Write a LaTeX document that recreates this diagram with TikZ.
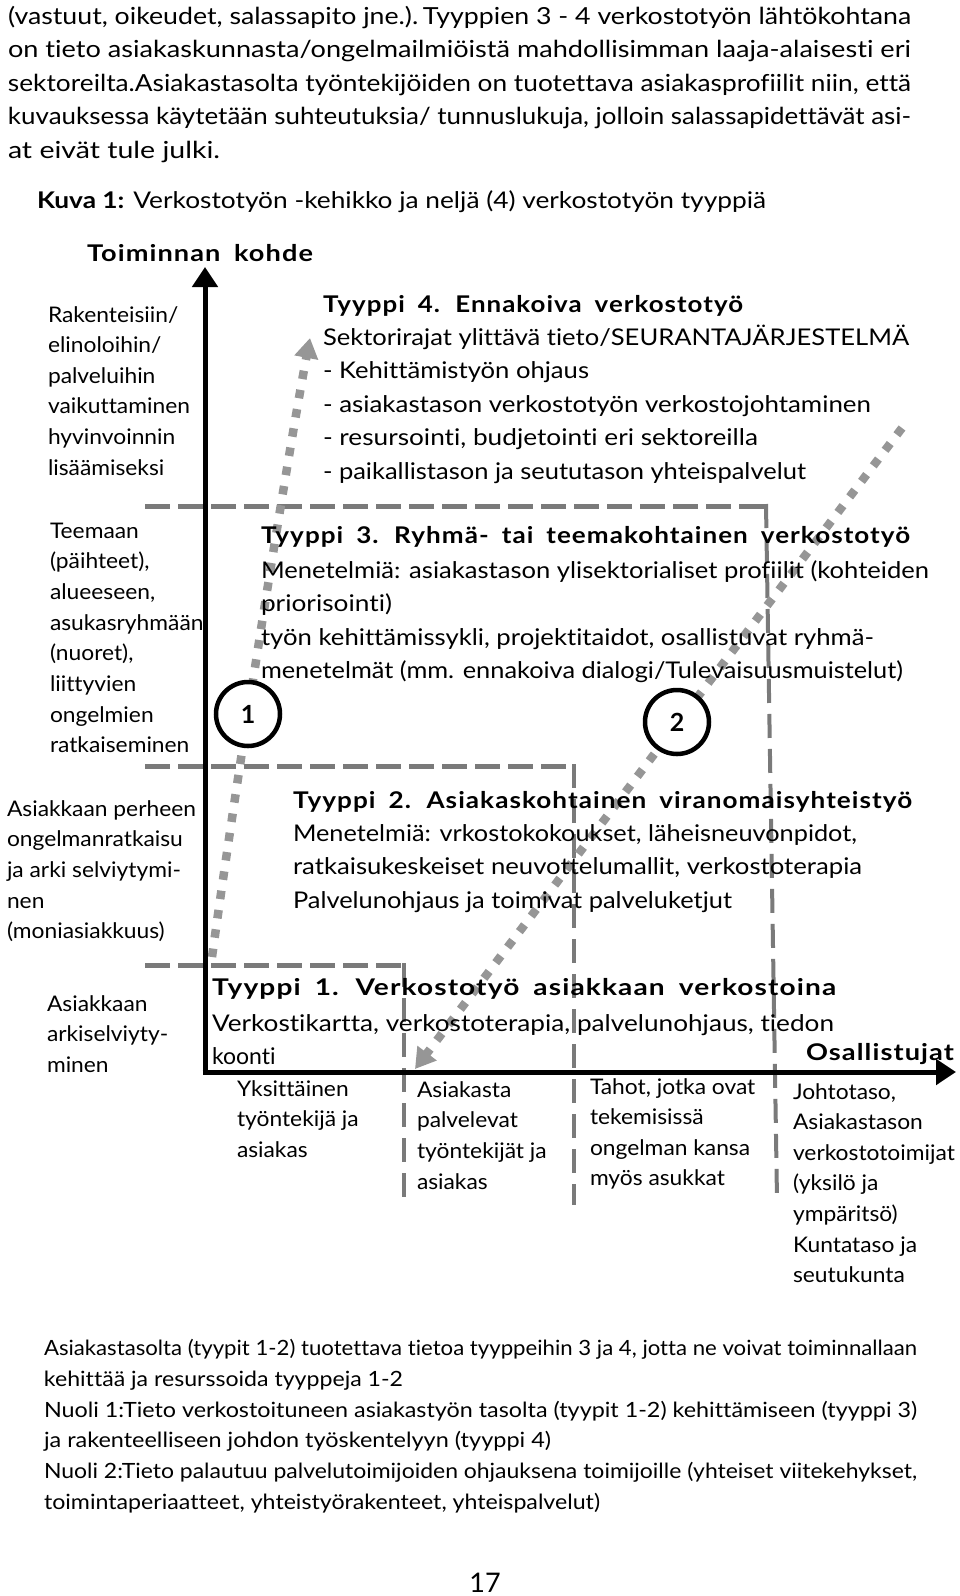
\documentclass[tikz,border=0pt]{standalone}
\usepackage{fontspec}
\usepackage{graphicx}
\setmainfont{Lato}[Ligatures=NoCommon]
\newfontfamily\wide{Lato}[LetterSpace=4,Ligatures=NoCommon]
\newfontfamily\labfont{Lato}[FakeStretch=1.06,Ligatures=NoCommon]
\usetikzlibrary{arrows.meta}
\definecolor{dashgray}{RGB}{122,122,122}
\definecolor{dotgray}{RGB}{150,150,150}
\newcommand\fw[2]{\resizebox{#1pt}{\height}{#2}}
\newcommand\ttlfont{\wide\bfseries\fontsize{23}{28}\selectfont\spaceskip 0.5em\relax}
\begin{document}
\begin{tikzpicture}[x=1pt,y=-1pt,
  every node/.style={inner sep=0pt,outer sep=0pt},
  toptext/.style={anchor=base west,font=\fontsize{23.5}{28}\selectfont},
  bottext/.style={anchor=base west,font=\fontsize{21}{25}\selectfont},
  lab/.style={anchor=base west,font=\labfont\fontsize{21.5}{26}\selectfont},
  body/.style={anchor=base west,font=\fontsize{23}{28}\selectfont},
  ttl/.style={anchor=base west,font=\ttlfont},
  axisline/.style={line width=5pt,-{Triangle[width=25pt,length=20pt]}},
  hdash/.style={color=dashgray,line width=5pt,dash pattern=on 25pt off 8pt},
  vdash/.style={color=dashgray,line width=4pt,dash pattern=on 24pt off 11pt},
  flow/.style={color=dotgray,line width=8.5pt,dash pattern=on 8.5pt off 11pt,
     -{Triangle[width=23pt,length=20pt]}},
  num/.style={circle,draw,fill=white,line width=4.5pt,minimum size=64pt,font=\bfseries\fontsize{25}{30}\selectfont},
]
\useasboundingbox (0,0) rectangle (960,1596);

% ---- dashed level lines
\coordinate (h1a) at (145,506); \coordinate (h1b) at (766,506);
\coordinate (v1a) at (766,504); \coordinate (v1b) at (777,1199);
\coordinate (h2a) at (145,766); \coordinate (h2b) at (574,766);
\coordinate (v2a) at (574,764); \coordinate (v2b) at (574,1205);
\coordinate (h3a) at (145,965); \coordinate (h3b) at (404,965);
\coordinate (v3a) at (404,963); \coordinate (v3b) at (404,1205);
\draw[hdash] (h1a) -- (h1b);
\draw[vdash] (v1a) -- (v1b);
\draw[hdash] (h2a) -- (h2b);
\draw[vdash] (v2a) -- (v2b);
\draw[hdash] (h3a) -- (h3b);
\draw[vdash] (v3a) -- (v3b);

% ---- dotted flow arrows
\coordinate (a1s) at (212,957); \coordinate (a1e) at (310,338);
\draw[flow] (a1s) .. controls (235,790) and (285,470) .. (a1e);
\coordinate (a2s) at (902,428); \coordinate (a2e) at (415,1069);
\draw[flow] (a2s) -- (a2e);

% ---- axes
\coordinate (Ob) at (205,1074.5); \coordinate (ytip) at (205,267);
\coordinate (Ol) at (202.5,1072); \coordinate (xtip) at (956,1072);
\draw[axisline] (Ob) -- (ytip);
\draw[axisline] (Ol) -- (xtip);

% ---- circles
\node[num] (c1) at (248,714) {1};
\node[num] (c2) at (677,722) {2};

% ---- top paragraph
\node[toptext] (p1) at (8,24) {\fw{903}{(vastuut, oikeudet, salassapito jne.).\,Tyyppien 3 - 4 verkostotyön lähtökohtana}};
\node[toptext] (p2) at (8,57) {\fw{903}{on tieto asiakaskunnasta/ongelmailmiöistä mahdollisimman laaja-alaisesti eri}};
\node[toptext] (p3) at (8,91) {\fw{903}{sektoreilta.Asiakastasolta työntekijöiden on tuotettava asiakasprofiilit niin, että}};
\node[toptext] (p4) at (8,124) {\fw{903}{kuvauksessa käytetään suhteutuksia/ tunnuslukuja, jolloin salassapidettävät asi-}};
\node[toptext] (p5) at (8,158) {\fw{212}{at eivät tule julki.}};

\node[body] (kuva) at (37,208) {\fw{729}{\textbf{Kuva 1:} Verkostotyön -kehikko ja neljä (4) verkostotyön tyyppiä}};

% ---- axis titles
\node[ttl] (ytitle) at (87,261) {\fw{226}{Toiminnan kohde}};
\node[ttl] (xtitle) at (806,1060) {\fw{148}{Osallistujat}};

% ---- left labels
\foreach \t [count=\i from 0] in {Rakenteisiin/, elinoloihin/, palveluihin, vaikuttaminen, hyvinvoinnin, lisäämiseksi}
  \node[lab] (la\i) at (48,322+30.6*\i) {\t};
\foreach \t [count=\i from 0] in {Teemaan, {(päihteet),}, {alueeseen,}, asukasryhmään, {(nuoret),}, liittyvien, ongelmien, ratkaiseminen}
  \node[lab] (lb\i) at (50,538+30.7*\i) {\t};
\foreach \t [count=\i from 0] in {Asiakkaan perheen, ongelmanratkaisu, ja arki selviytymi-, nen, {(moniasiakkuus)}}
  \node[lab] (lc\i) at (7,816+30.7*\i) {\t};
\foreach \t [count=\i from 0] in {Asiakkaan, arkiselviyty-, minen}
  \node[lab] (ld\i) at (47,1011+30.5*\i) {\t};

% ---- type 4
\node[ttl] (t4) at (323,312) {\fw{420}{Tyyppi 4. Ennakoiva verkostotyö}};
\node[body] (t4a) at (323,345) {\fw{586}{Sektorirajat ylittävä tieto/SEURANTAJÄRJESTELMÄ}};
\node[body] (t4b) at (323,378.6) {\fw{266}{- Kehittämistyön ohjaus}};
\node[body] (t4c) at (323,412.2) {\fw{548}{- asiakastason verkostotyön verkostojohtaminen}};
\node[body] (t4d) at (323,445.8) {\fw{435}{- resursointi, budjetointi eri sektoreilla}};
\node[body] (t4e) at (323,479.4) {\fw{483}{- paikallistason ja seututason yhteispalvelut}};

% ---- type 3
\node[ttl] (t3) at (261,543) {\fw{649}{Tyyppi 3. Ryhmä- tai teemakohtainen verkostotyö}};
\node[body] (t3a) at (261,578) {\fw{668}{Menetelmiä: asiakastason ylisektorialiset profiilit (kohteiden}};
\node[body] (t3b) at (261,611.5) {\fw{131}{priorisointi)}};
\node[body] (t3c) at (261,645) {\fw{613}{työn kehittämissykli, projektitaidot, osallistuvat ryhmä-}};
\node[body] (t3d) at (261,678.5) {\fw{642}{menetelmät (mm. ennakoiva dialogi/Tulevaisuusmuistelut)}};

% ---- type 2
\node[ttl] (t2) at (293,808) {\fw{619}{Tyyppi 2. Asiakaskohtainen viranomaisyhteistyö}};
\node[body] (t2a) at (293,841) {\fw{564}{Menetelmiä: vrkostokokoukset, läheisneuvonpidot,}};
\node[body] (t2b) at (293,874.8) {\fw{569}{ratkaisukeskeiset neuvottelumallit, verkostoterapia}};
\node[body] (t2c) at (293,908.6) {\fw{439}{Palvelunohjaus ja toimivat palveluketjut}};

% ---- type 1
\node[ttl] (t1) at (212,995) {\fw{624}{Tyyppi 1. Verkostotyö asiakkaan verkostoina}};
\node[body] (t1a) at (212,1031) {\fw{622}{Verkostikartta, verkostoterapia, palvelunohjaus, tiedon}};
\node[body] (t1b) at (212,1064) {koonti};

% ---- bottom labels
\foreach \t [count=\i from 0] in {Yksittäinen, työntekijä ja, asiakas}
  \node[lab] (ba\i) at (237,1096+30.5*\i) {\t};
\foreach \t [count=\i from 0] in {Asiakasta, palvelevat, työntekijät ja, asiakas}
  \node[lab] (bb\i) at (417,1097+30.8*\i) {\t};
\foreach \t [count=\i from 0] in {{Tahot, jotka ovat}, tekemisissä, ongelman kansa, myös asukkat}
  \node[lab] (bc\i) at (590,1094+30.6*\i) {\t};
\foreach \t [count=\i from 0] in {{Johtotaso,}, Asiakastason, verkostotoimijat, {(yksilö ja}, {ympäritsö)}, Kuntataso ja, seutukunta}
  \node[lab] (bd\i) at (793,1099+30.6*\i) {\t};

% ---- bottom paragraph
\node[bottext] (q1) at (44,1355) {\fw{873}{Asiakastasolta (tyypit 1-2) tuotettava tietoa tyyppeihin 3 ja 4, jotta ne voivat toiminnallaan}};
\node[bottext] (q2) at (44,1386) {\fw{359}{kehittää ja resurssoida tyyppeja 1-2}};
\node[bottext] (q3) at (44,1417) {\fw{873}{Nuoli 1:Tieto verkostoituneen asiakastyön tasolta (tyypit 1-2) kehittämiseen (tyyppi 3)}};
\node[bottext] (q4) at (44,1447) {\fw{507}{ja rakenteelliseen johdon työskentelyyn (tyyppi 4)}};
\node[bottext] (q5) at (44,1478) {\fw{873}{Nuoli 2:Tieto palautuu palvelutoimijoiden ohjauksena toimijoille (yhteiset viitekehykset,}};
\node[bottext] (q6) at (44,1509) {\fw{556}{toimintaperiaatteet, yhteistyörakenteet, yhteispalvelut)}};

\node[font=\fontsize{27}{30}\selectfont] (pg) at (485,1583) {17};
\end{tikzpicture}
\end{document}
